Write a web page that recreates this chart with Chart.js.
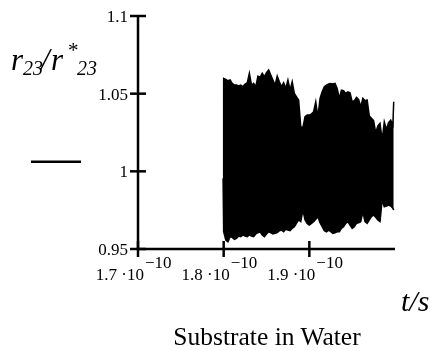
<!DOCTYPE html>
<html>
<head>
<meta charset="utf-8">
<script src="https://cdn.jsdelivr.net/npm/chart.js@4/dist/chart.umd.min.js"></script>
<style>
  html, body { margin:0; padding:0; background:#fff; }
  #wrap { position:relative; width:431px; height:351px; overflow:hidden; }
  canvas { position:absolute; left:0; top:0; }
  .t { position:absolute; font-family:'Liberation Serif','Times New Roman',serif; line-height:1; color:#000; white-space:nowrap; }
  .i { font-style:italic; }
</style>
</head>
<body>
<div id="wrap">
  <canvas id="c" width="431" height="351"></canvas>
  <span class="t i" style="left:11px;top:44px;font-size:31px;">r</span>
  <span class="t i" style="left:23px;top:58px;font-size:20px;">23</span>
  <span class="t i" style="left:41px;top:44px;font-size:31px;">/</span>
  <span class="t i" style="left:51px;top:44px;font-size:31px;">r</span>
  <span class="t i" style="left:67px;top:40px;font-size:21px;">*</span>
  <span class="t i" style="left:77px;top:58px;font-size:20px;">23</span>
  <span class="t i" style="left:401px;top:286px;font-size:30px;">t/s</span>
  <div class="t" style="left:117px;top:324px;width:300px;text-align:center;font-size:25.5px;">Substrate in Water</div>
</div>
<script>
// time in units of 1e-10 s
const times = [1.7993,
  1.8000,1.8025,1.8050,1.8075,1.8100,1.8125,1.8150,1.8175,1.8200,1.8225,
  1.8250,1.8275,1.8300,1.8325,1.8350,1.8375,1.8400,1.8425,1.8450,1.8475,
  1.8500,1.8525,1.8550,1.8575,1.8600,1.8625,1.8650,1.8675,1.8700,1.8725,
  1.8750,1.8775,1.8800,1.8825,1.8850,1.8875,1.8900,1.8925,1.8950,1.8975,
  1.9000,1.9025,1.9050,1.9075,1.9100,1.9125,1.9150,1.9175,1.9200,1.9225,
  1.9250,1.9275,1.9300,1.9325,1.9350,1.9375,1.9400,1.9425,1.9450,1.9475,
  1.9500,1.9525,1.9550,1.9575,1.9600,1.9625,1.9650,1.9675,1.9700,1.9725,
  1.9750,1.9775,1.9800,1.9825,1.9850,1.9875,1.9900,1.9925,1.9950,1.9975,
  1.9985];
// upper envelope of the oscillating r23/r*23 trace
const upperRatio = [0.9955,
  1.0598,1.0592,1.0583,1.0588,1.0566,1.0555,1.0555,1.0549,1.0555,1.0545,
  1.0562,1.0570,1.0631,1.0555,1.0566,1.0545,1.0613,1.0605,1.0631,1.0609,
  1.0635,1.0652,1.0620,1.0588,1.0555,1.0613,1.0577,1.0545,1.0570,1.0534,
  1.0588,1.0523,1.0577,1.0502,1.0480,1.0459,1.0287,1.0283,1.0352,1.0362,
  1.0362,1.0369,1.0384,1.0448,1.0347,1.0470,1.0512,1.0545,1.0555,1.0562,
  1.0566,1.0562,1.0566,1.0534,1.0470,1.0523,1.0519,1.0502,1.0512,1.0506,
  1.0448,1.0454,1.0476,1.0463,1.0416,1.0470,1.0454,1.0459,1.0356,1.0341,
  1.0326,1.0248,1.0292,1.0309,1.0201,1.0319,1.0270,1.0313,1.0330,1.0298,
  1.0448];
// lower envelope of the oscillating r23/r*23 trace
const lowerRatio = [0.9955,
  0.9611,0.9558,0.9547,0.9579,0.9575,0.9562,0.9569,0.9584,0.9579,0.9590,
  0.9584,0.9579,0.9590,0.9584,0.9579,0.9597,0.9605,0.9611,0.9590,0.9579,
  0.9597,0.9611,0.9605,0.9597,0.9601,0.9605,0.9618,0.9622,0.9611,0.9627,
  0.9622,0.9618,0.9633,0.9644,0.9665,0.9687,0.9676,0.9751,0.9687,0.9665,
  0.9654,0.9665,0.9676,0.9691,0.9708,0.9669,0.9644,0.9618,0.9611,0.9622,
  0.9611,0.9601,0.9605,0.9611,0.9611,0.9633,0.9644,0.9665,0.9676,0.9654,
  0.9633,0.9644,0.9665,0.9669,0.9676,0.9740,0.9676,0.9665,0.9687,0.9708,
  0.9719,0.9704,0.9687,0.9676,0.9815,0.9772,0.9777,0.9783,0.9777,0.9762,
  0.9751];

const xTickValues = [1.7, 1.8, 1.9];
const xTickLabels = ["1.7 \u00B710", "1.8 \u00B710", "1.9 \u00B710"];
const xTickExponent = "\u221210";
const yTickValues = [0.95, 1, 1.05, 1.1];
const yTickLabels = ["0.95", "1", "1.05", "1.1"];

const axesPlugin = {
  id: 'mathcadAxes',
  afterDraw(chart) {
    const ctx = chart.ctx;
    const xs = chart.scales.x, ys = chart.scales.y;
    const x0 = xs.getPixelForValue(xs.min), x1 = xs.getPixelForValue(xs.max);
    const y0 = ys.getPixelForValue(ys.min), y1 = ys.getPixelForValue(ys.max);
    ctx.save();
    ctx.strokeStyle = '#000';
    ctx.fillStyle = '#000';
    ctx.lineWidth = 2.5;
    ctx.lineCap = 'butt';
    ctx.beginPath();
    ctx.moveTo(x0, y1); ctx.lineTo(x0, y0);
    ctx.moveTo(x0, y0); ctx.lineTo(x1, y0);
    ctx.stroke();
    // y ticks
    ctx.font = "17px 'Liberation Serif', 'Times New Roman', serif";
    ctx.textAlign = 'right';
    ctx.textBaseline = 'alphabetic';
    yTickValues.forEach((v, i) => {
      const y = ys.getPixelForValue(v);
      ctx.beginPath(); ctx.moveTo(x0 - 8, y); ctx.lineTo(x0 + 8, y); ctx.stroke();
      ctx.fillText(yTickLabels[i], x0 - 10, y + 6);
    });
    // x ticks
    xTickValues.forEach((v, i) => {
      const x = xs.getPixelForValue(v);
      ctx.beginPath(); ctx.moveTo(x, y0 - 8); ctx.lineTo(x, y0 + 8); ctx.stroke();
      ctx.textAlign = 'right';
      ctx.fillText(xTickLabels[i], x + 6, y0 + 31);
      ctx.textAlign = 'left';
      ctx.fillText(xTickExponent, x + 7, y0 + 19);
    });
    // trace-style legend line at left
    ctx.lineWidth = 2.5;
    ctx.beginPath(); ctx.moveTo(31, 161.7); ctx.lineTo(81, 161.7); ctx.stroke();
    ctx.restore();
  }
};

new Chart(document.getElementById('c'), {
  type: 'line',
  data: {
    datasets: [
      {
        label: 'upper',
        data: times.map((t, i) => ({ x: t, y: upperRatio[i] })),
        borderColor: '#000', backgroundColor: '#000', borderWidth: 1.5,
        pointRadius: 0, tension: 0, fill: '+1'
      },
      {
        label: 'lower',
        data: times.map((t, i) => ({ x: t, y: lowerRatio[i] })),
        borderColor: '#000', backgroundColor: '#000', borderWidth: 1.5,
        pointRadius: 0, tension: 0, fill: false
      }
    ]
  },
  options: {
    responsive: false,
    animation: false,
    devicePixelRatio: 1,
    layout: { padding: { left: 138, right: 36, top: 16, bottom: 102 }, autoPadding: false },
    plugins: { legend: { display: false }, tooltip: { enabled: false } },
    scales: {
      x: { type: 'linear', min: 1.7, max: 2.0, display: false },
      y: { type: 'linear', min: 0.95, max: 1.1, display: false }
    }
  },
  plugins: [axesPlugin]
});
</script>
</body>
</html>
